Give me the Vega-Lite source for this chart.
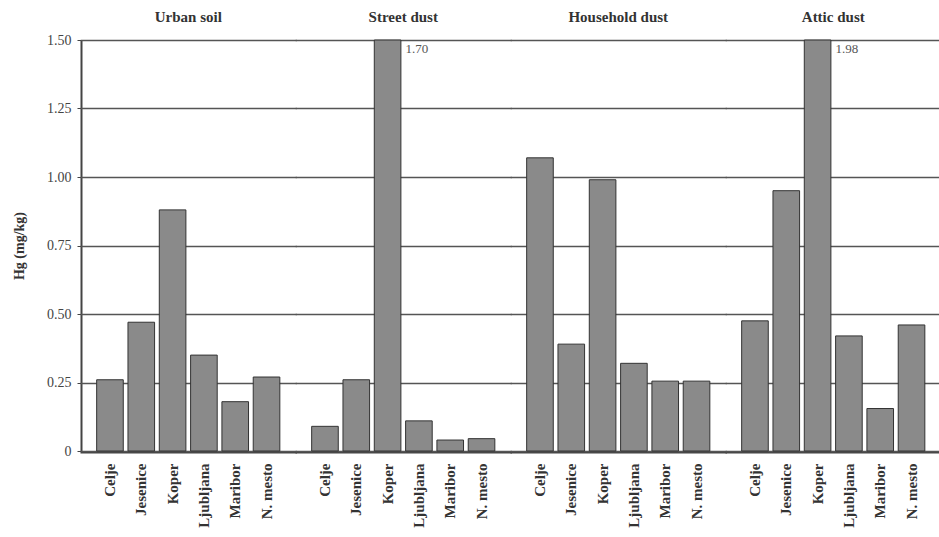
{
  "$schema": "https://vega.github.io/schema/vega-lite/v6.json",
  "padding": {"left": 12, "top": 10, "right": 0, "bottom": 0},
  "background": "white",
  "data": {"values": [
    {"sample": "Urban soil", "city": "Celje", "value": 0.26},
    {"sample": "Urban soil", "city": "Jesenice", "value": 0.47},
    {"sample": "Urban soil", "city": "Koper", "value": 0.88},
    {"sample": "Urban soil", "city": "Ljubljana", "value": 0.35},
    {"sample": "Urban soil", "city": "Maribor", "value": 0.18},
    {"sample": "Urban soil", "city": "N. mesto", "value": 0.27},
    {"sample": "Street dust", "city": "Celje", "value": 0.09},
    {"sample": "Street dust", "city": "Jesenice", "value": 0.26},
    {"sample": "Street dust", "city": "Koper", "value": 1.70},
    {"sample": "Street dust", "city": "Ljubljana", "value": 0.11},
    {"sample": "Street dust", "city": "Maribor", "value": 0.04},
    {"sample": "Street dust", "city": "N. mesto", "value": 0.045},
    {"sample": "Household dust", "city": "Celje", "value": 1.07},
    {"sample": "Household dust", "city": "Jesenice", "value": 0.39},
    {"sample": "Household dust", "city": "Koper", "value": 0.99},
    {"sample": "Household dust", "city": "Ljubljana", "value": 0.32},
    {"sample": "Household dust", "city": "Maribor", "value": 0.255},
    {"sample": "Household dust", "city": "N. mesto", "value": 0.255},
    {"sample": "Attic dust", "city": "Celje", "value": 0.475},
    {"sample": "Attic dust", "city": "Jesenice", "value": 0.95},
    {"sample": "Attic dust", "city": "Koper", "value": 1.98},
    {"sample": "Attic dust", "city": "Ljubljana", "value": 0.42},
    {"sample": "Attic dust", "city": "Maribor", "value": 0.155},
    {"sample": "Attic dust", "city": "N. mesto", "value": 0.46}
  ]},
  "facet": {
    "column": {
      "field": "sample", "type": "nominal",
      "sort": ["Urban soil", "Street dust", "Household dust", "Attic dust"],
      "header": {"title": null, "labelFont": "Liberation Serif", "labelFontWeight": "bold", "labelFontSize": 15, "labelColor": "#333", "labelPadding": 14}
    }
  },
  "spacing": 0,
  "spec": {
    "width": 214.5,
    "height": 411,
    "encoding": {
      "x": {
        "field": "city", "type": "nominal",
        "sort": ["Celje", "Jesenice", "Koper", "Ljubljana", "Maribor", "N. mesto"],
        "scale": {"paddingInner": 0.15, "paddingOuter": 0.5},
        "axis": {"title": null, "labelAngle": -90, "labelFont": "Liberation Serif", "labelFontWeight": "bold", "labelFontSize": 15, "labelColor": "#333", "ticks": false, "labelPadding": 11, "domainColor": "#444", "domainWidth": 2, "domainCap": "square"}
      },
      "y": {
        "field": "value", "type": "quantitative",
        "scale": {"domain": [0, 1.5], "nice": false, "clamp": true},
        "axis": {
          "title": "Hg (mg/kg)", "titleFont": "Liberation Serif", "titleFontWeight": "bold", "titleFontSize": 14, "titleColor": "#333", "titlePadding": 20,
          "values": [0, 0.25, 0.5, 0.75, 1, 1.25, 1.5],
          "labelExpr": "datum.value == 0 ? '0' : format(datum.value, '.2f')",
          "labelFont": "Liberation Serif", "labelFontSize": 14, "labelColor": "#444", "labelPadding": 6,
          "tickSize": 4, "tickColor": "#444",
          "grid": true, "gridColor": "#555", "gridWidth": 1.6, "gridOpacity": 1, "gridCap": "square",
          "domainColor": "#444", "domainWidth": 2
        }
      }
    },
    "layer": [
      {
        "mark": {"type": "bar", "color": "#8a8a8a", "stroke": "#333", "strokeWidth": 1}
      },
      {
        "transform": [{"filter": "datum.value > 1.5"}],
        "mark": {"type": "text", "font": "Liberation Serif", "fontSize": 13, "color": "#555", "align": "left", "baseline": "top", "dx": 18, "dy": 3},
        "encoding": {
          "y": {"datum": 1.5},
          "text": {"field": "value", "type": "quantitative", "format": ".2f"}
        }
      }
    ]
  },
  "config": {"view": {"stroke": null}}
}
